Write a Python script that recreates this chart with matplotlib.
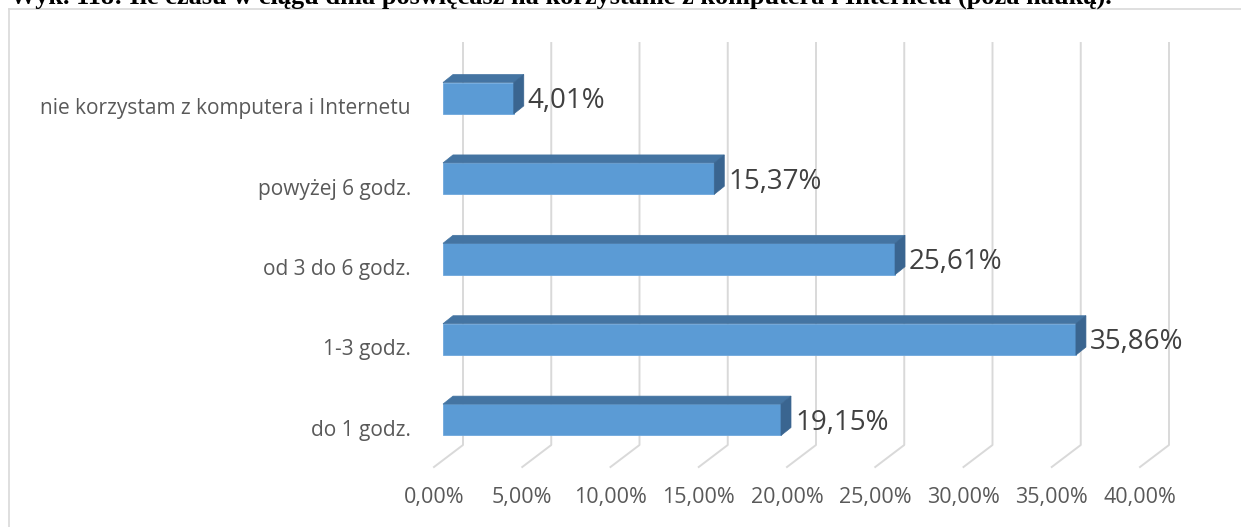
import numpy as np
import matplotlib
matplotlib.use('Agg')
import matplotlib.pyplot as plt
from matplotlib.patches import Polygon
from matplotlib.lines import Line2D
from matplotlib.transforms import IdentityTransform

# chart data
categories = ['do 1 godz.', '1-3 godz.', 'od 3 do 6 godz.', 'powyżej 6 godz.',
              'nie korzystam z komputera i Internetu']
values = [19.15, 35.86, 25.61, 15.37, 4.01]
value_labels = ['19,15%', '35,86%', '25,61%', '15,37%', '4,01%']
ticks = [0, 5, 10, 15, 20, 25, 30, 35, 40]
tick_labels = ['0,00%', '5,00%', '10,00%', '15,00%', '20,00%', '25,00%', '30,00%', '35,00%', '40,00%']
title = 'Wyk. 118: Ile czasu w ciągu dnia poświęcasz na korzystanie z komputera i Internetu (poza nauką).'

W, H = 1241, 527
font = 'Open Sans'
grid_col = '#D9D9D9'
front_col = '#5B9BD5'
top_col = '#4474A2'
side_col = '#3A6590'

fig = plt.figure(figsize=(W / 100, H / 100), dpi=100)
ax = fig.add_axes([443 / W, 67 / H, 706 / W, 402 / H])
ax.set_xlim(0, 40)
ax.set_ylim(-0.5, 4.5)
ax.axis('off')

# pseudo 3d offsets in pixels (right, up) relative to bar front plane
back = np.array([20, 15])
floor_front = np.array([-9, -7])
depth = np.array([10, 8])

disp = IdentityTransform()

# chart border (left and top only visible)
fig.add_artist(Line2D([8.5, 8.5], [0, H - 8.5], transform=disp, color=grid_col, lw=1.2))
fig.add_artist(Line2D([8.5, W], [H - 8.5, H - 8.5], transform=disp, color=grid_col, lw=1.2))

# title, cut off at the top like in the source
fig.text(10, H - 4, title, transform=disp, family='Liberation Serif', weight='bold',
         fontsize=18.9, va='baseline', ha='left', color='black')

# gridlines on back wall plus floor
for t, lab in zip(ticks, tick_labels):
    p_top = ax.transData.transform((t, 4.5)) + back
    p_bot = ax.transData.transform((t, -0.5)) + back
    p_fr = ax.transData.transform((t, -0.5)) + floor_front
    ax.add_line(Line2D([p_top[0], p_bot[0], p_fr[0]], [p_top[1], p_bot[1], p_fr[1]],
                       transform=disp, color=grid_col, lw=1.4, clip_on=False, zorder=1))
    ax.annotate(lab, xy=(t, -0.5), xycoords='data', xytext=(-9, -37), textcoords='offset pixels',
                ha='center', va='center', fontsize=15.5, family=font, color='#595959',
                annotation_clip=False)

# bars
ypos = np.arange(len(categories))
h = 0.39
ax.barh(ypos, values, height=h, color=front_col, edgecolor='#6FA8DC', lw=0.6, zorder=3)
for y, v in zip(ypos, values):
    tl = ax.transData.transform((0, y + h / 2))
    tr = ax.transData.transform((v, y + h / 2))
    br = ax.transData.transform((v, y - h / 2))
    ax.add_patch(Polygon([tl, tr, tr + depth, tl + depth], closed=True, transform=disp,
                         facecolor=top_col, edgecolor=top_col, lw=0.5, zorder=3, clip_on=False))
    ax.add_patch(Polygon([tr, br, br + depth, tr + depth], closed=True, transform=disp,
                         facecolor=side_col, edgecolor=side_col, lw=0.5, zorder=3, clip_on=False))

# value labels
for y, v, lab in zip(ypos, values, value_labels):
    ax.annotate(lab, xy=(v, y), xycoords='data', xytext=(14, -3), textcoords='offset pixels',
                ha='left', va='center', fontsize=20, family=font, color='#404040',
                annotation_clip=False)

# category labels
for y, c in zip(ypos, categories):
    ax.annotate(c, xy=(0, y), xycoords='data', xytext=(-32, -16), textcoords='offset pixels',
                ha='right', va='baseline', fontsize=15, family=font, color='#595959',
                annotation_clip=False)

fig.savefig('out.png', dpi=100, facecolor='white')
